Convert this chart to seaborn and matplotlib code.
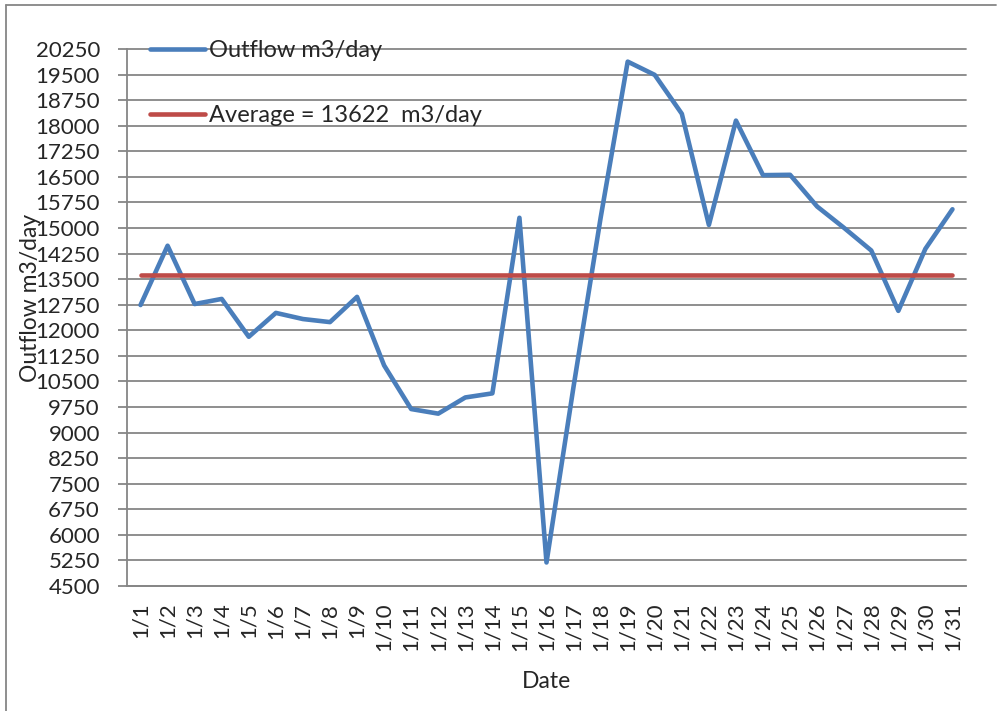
import numpy as np
import pandas as pd
import seaborn as sns
import matplotlib.pyplot as plt
from matplotlib.lines import Line2D

dates = ["1/" + str(d) for d in range(1, 32)]
outflow = [12740, 14480, 12770, 12920, 11810, 12510, 12330, 12240, 12980, 10970,
           9690, 9555, 10030, 10150, 15300, 5190, 10350, 15300, 19880, 19490,
           18350, 15090, 18150, 16550, 16560, 15630, 15000, 14340, 12570, 14390, 15550]
average = 13622
yticks = list(range(4500, 20251, 750))

df = pd.DataFrame({"day": range(len(dates)), "date": dates, "outflow": outflow})
df["average"] = average

sns.set_style("white")
plt.rcParams['font.family'] = ['Lato', 'DejaVu Sans']

blue = "#4A7EBB"
red = "#BE4B48"
grey = "#868686"

fig = plt.figure(figsize=(9.97, 7.11), dpi=100)
ax = fig.add_axes([127/997, 1-586/711, (966-127)/997, (586-49)/711])

sns.lineplot(data=df, x="day", y="outflow", ax=ax, color=blue, lw=3.3,
             solid_capstyle="round", label="Outflow m3/day")
sns.lineplot(data=df, x="day", y="average", ax=ax, color=red, lw=3.3,
             solid_capstyle="round", label="Average = 13622  m3/day")

ax.set_xlim(-0.5, len(dates) - 0.5)
ax.set_ylim(4500, 20250)
ax.set_yticks(yticks)
ax.set_yticklabels([str(v) for v in yticks], fontsize=16)
ax.set_xticks(df["day"])
ax.set_xticklabels(dates, rotation=90, fontsize=16)

ax.grid(axis="y", color=grey, lw=1.3)
ax.grid(axis="x", visible=False)
for gl in ax.get_ygridlines():
    gl.set_clip_on(False)
ax.set_axisbelow(True)
for s in ["top", "right"]:
    ax.spines[s].set_visible(False)
for s in ["left", "bottom"]:
    ax.spines[s].set_color(grey)
    ax.spines[s].set_linewidth(1.3)
ax.tick_params(axis="y", length=6.5, width=1.3, color=grey, pad=13, left=True)
ax.tick_params(axis="x", length=0, pad=12)

ax.set_xlabel("Date", fontsize=16.5)
ax.set_ylabel("Outflow m3/day", fontsize=16.5)
ax.xaxis.set_label_coords(0.5, -0.158)
ax.yaxis.set_label_coords(-0.103, 0.536)

handles = [Line2D([], [], color=blue, lw=3.3, solid_capstyle="round"),
           Line2D([], [], color=red, lw=3.3, solid_capstyle="round")]
ax.legend(handles, ["Outflow m3/day", "Average = 13622  m3/day"],
          loc="upper left", bbox_to_anchor=(0.0274, 1.0165), frameon=False,
          fontsize=17, handlelength=2.35, handletextpad=0.15, labelspacing=1.85,
          borderpad=0, borderaxespad=0)

# outer frame
fig.add_artist(Line2D([6/997, 6/997], [0, 1-5/711], color=grey, lw=1.3))
fig.add_artist(Line2D([6/997, 996/997], [1-5/711, 1-5/711], color=grey, lw=1.3))

fig.savefig("out.png", dpi=100)
